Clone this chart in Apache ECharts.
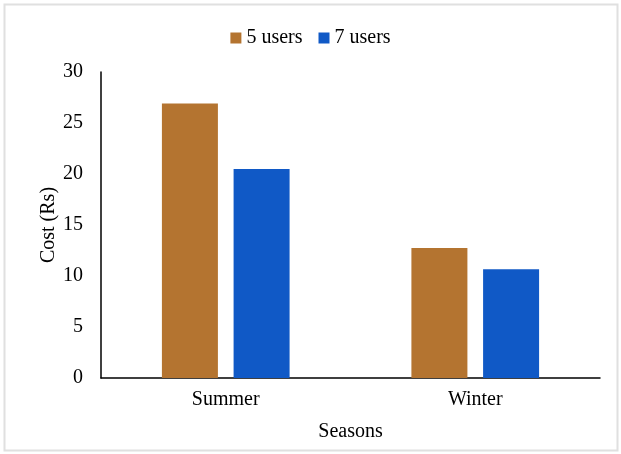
<!DOCTYPE html>
<html><head><meta charset="utf-8">
<script src="https://cdn.jsdelivr.net/npm/echarts@6/dist/echarts.min.js"></script>
<style>html,body{margin:0;padding:0;background:#fff}#c{width:621px;height:454px}</style>
</head><body><div id="c"></div>
<script>
const categories = ['Summer', 'Winter'];
const users5 = [26.9, 12.75];
const users7 = [20.5, 10.65];
const seriesNames = ['5 users', '7 users'];
const font = 'Liberation Serif, Times New Roman, serif';
const chart = echarts.init(document.getElementById('c'));
chart.setOption({
  animation: false,
  backgroundColor: '#fff',
  graphic: [{type:'rect', shape:{x:4.5, y:4.5, width:613, height:446}, style:{fill:'none', stroke:'#e0e0e0', lineWidth:2}, silent:true}],
  legend: {
    top: 23, left: 'center', itemWidth: 11, itemHeight: 11, itemGap: 16,
    icon: 'rect',
    textStyle: {fontFamily: font, fontSize: 20, color: '#000'},
    data: seriesNames
  },
  grid: {left: 101, right: 21, top: 72, bottom: 76, containLabel: false},
  xAxis: {
    type: 'category', data: categories,
    axisLine: {lineStyle: {color: '#000', width: 1.5}},
    axisTick: {show: false},
    axisLabel: {fontFamily: font, fontSize: 20, color: '#000', margin: 12},
    name: 'Seasons', nameLocation: 'middle', nameGap: 44, nameMoveOverlap: false,
    nameTextStyle: {fontFamily: font, fontSize: 20, color: '#000'}
  },
  yAxis: {
    type: 'value', min: 0, max: 30, interval: 5,
    axisLine: {show: true, lineStyle: {color: '#000', width: 1.5}},
    axisTick: {show: false},
    splitLine: {show: false},
    axisLabel: {fontFamily: font, fontSize: 20, color: '#000', margin: 18},
    name: 'Cost (Rs)', nameLocation: 'middle', nameGap: 42, nameMoveOverlap: false,
    nameTextStyle: {fontFamily: font, fontSize: 20, color: '#000'}
  },
  series: [
    {name: seriesNames[0], type: 'bar', data: users5, barWidth: 56, barGap: '28%', itemStyle: {color: '#B47430'}},
    {name: seriesNames[1], type: 'bar', data: users7, barWidth: 56, barGap: '28%', itemStyle: {color: '#1059C6'}}
  ]
});
</script></body></html>
